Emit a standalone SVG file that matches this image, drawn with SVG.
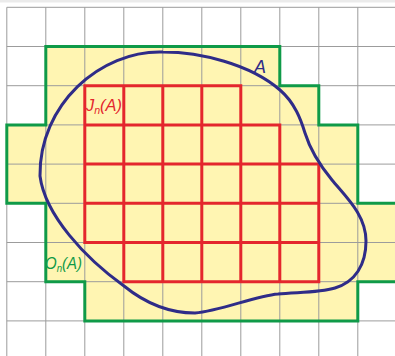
<svg xmlns="http://www.w3.org/2000/svg" width="395" height="356" viewBox="0 0 395 356">
  <style>
    .grid { stroke: #9c9c9c; stroke-width: 1; fill: none; }
    .outer { stroke: #0f9a48; stroke-width: 3; fill: none; stroke-linejoin: miter; }
    .inner { stroke: #e4262d; stroke-width: 3; fill: none; stroke-linecap: square; }
    .curve { stroke: #2f2c88; stroke-width: 3; fill: none; }
    .lbl { font-family: "Liberation Sans", Arial, sans-serif; font-style: italic; }
  </style>
  <rect x="0" y="0" width="395" height="356" fill="#ffffff"/>
  <rect x="0" y="0" width="395" height="2.5" fill="#ebebeb"/>
  <g id="outer-fill">
    <path fill="#fff5b2" d="M45.8,46.5 H279.8 V85.7 H318.8 V124.9 H357.8 V203.3 H395 V281.7 H357.8 V320.9 H84.8 V281.7 H45.8 V203.3 H6.8 V124.9 H45.8 Z"/>
  </g>
  <g id="grid" class="grid">
    <path d="M6.8,7.3 V356 M45.8,7.3 V356 M84.8,7.3 V356 M123.8,7.3 V356 M162.8,7.3 V356 M201.8,7.3 V356 M240.8,7.3 V356 M279.8,7.3 V356 M318.8,7.3 V356 M357.8,7.3 V356"/>
    <path d="M6.8,7.3 H395 M6.8,46.5 H395 M6.8,85.7 H395 M6.8,124.9 H395 M6.8,164.1 H395 M6.8,203.3 H395 M6.8,242.5 H395 M6.8,281.7 H395 M6.8,320.9 H395"/>
  </g>
  <g id="inner-Jn" class="inner">
    <path d="M84.8,85.7 H240.8 M84.8,124.9 H279.8 M84.8,164.1 H318.8 M84.8,203.3 H318.8 M84.8,242.5 H318.8 M123.8,281.7 H318.8 M84.8,85.7 V242.5 M123.8,85.7 V281.7 M162.8,85.7 V281.7 M201.8,85.7 V281.7 M240.8,85.7 V281.7 M279.8,124.9 V281.7 M318.8,164.1 V281.7"/>
  </g>
  <g id="outer-On">
    <path class="outer" d="M395,203.3 H357.8 V124.9 H318.8 V85.7 H279.8 V46.5 H45.8 V124.9 H6.8 V203.3 H45.8 V281.7 H84.8 V320.9 H357.8 V281.7 H395"/>
  </g>
  <g id="set-A">
    <path class="curve" d="M40,176 C39,105 100,50 163,52 C200,52 250,64 280,90 C295,103 301,120 305,133 C309,146 318,163 332,180 C346,197 366,215 366,241 C366,265 355,282 335,288 C318,293 295,292 278,294 C255,296 220,311 195,313 C170,313 145,303 124,286 C85,258 45,215 40,176 Z"/>
  </g>
  <g id="labels">
    <text class="lbl" x="254" y="73" font-size="18" fill="#2f2c88">A</text>
    <text class="lbl" x="86" y="111" font-size="17" fill="#e4262d" textLength="36" lengthAdjust="spacingAndGlyphs">J<tspan font-size="11" dy="3">n</tspan><tspan dy="-3">(A)</tspan></text>
    <text class="lbl" x="45" y="269" font-size="17" fill="#0f9a48" textLength="37" lengthAdjust="spacingAndGlyphs">O<tspan font-size="11" dy="3">n</tspan><tspan dy="-3">(A)</tspan></text>
  </g>
</svg>
